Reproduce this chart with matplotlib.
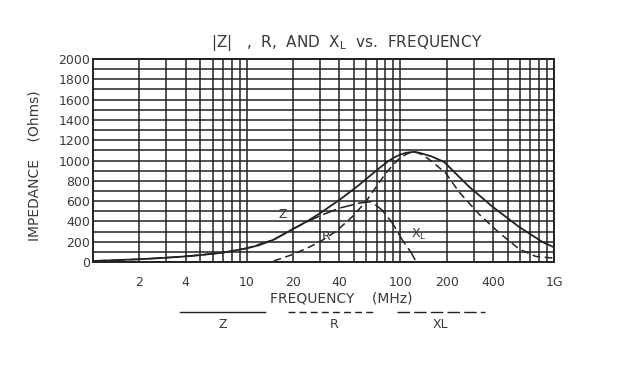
import numpy as np
import matplotlib
matplotlib.use('Agg')
import matplotlib.pyplot as plt
from matplotlib.lines import Line2D
from matplotlib.ticker import FixedLocator, MultipleLocator, NullFormatter

# Data (frequency in MHz, impedance in Ohms)
z_freq = [1, 2, 3, 4, 5, 7, 10, 12, 15, 20, 25, 30, 35, 40, 47, 54, 63, 73, 82, 91,
          100, 109, 122, 133, 160, 193, 280, 398, 590, 835, 1000]
z_ohms = [10, 27, 42, 55, 68, 92, 135, 165, 220, 325, 405, 480, 550, 610, 690, 760, 845, 925, 985, 1030,
          1058, 1076, 1085, 1076, 1040, 985, 742, 545, 348, 200, 145]

r_freq = [15, 20, 25, 30, 38, 49, 60, 70, 80, 90, 100, 113, 125, 140, 161, 198, 241, 326, 438, 590, 760, 1000]
r_ohms = [10, 75, 140, 200, 300, 450, 600, 745, 870, 960, 1030, 1072, 1085, 1055, 988, 874, 690, 470, 290, 130, 55, 38]

xl_freq = [1, 2, 4, 7, 10, 15, 20, 25, 30, 40, 54, 65, 76, 89, 103, 118, 127]
xl_ohms = [10, 27, 55, 92, 135, 220, 325, 400, 455, 530, 580, 595, 512, 381, 217, 89, 0]

x_ticks = [2, 4, 10, 20, 40, 100, 200, 400, 1000]
x_tick_labels = ['2', '4', '10', '20', '40', '100', '200', '400', '1G']
y_ticks = list(range(0, 2001, 200))

ink = '#222222'
txt = '#3a3a3a'

fig = plt.figure(figsize=(6.4, 3.67), dpi=100)
ax = fig.add_axes([93 / 640, 1 - 262 / 367, 461 / 640, 203 / 367])

ax.plot(z_freq, z_ohms, color=ink, lw=1.3, ls='-')
ax.plot(r_freq, r_ohms, color=ink, lw=1.1, dashes=(5, 3))
ax.plot(xl_freq, xl_ohms, color=ink, lw=1.1, dashes=(9, 3))

ax.set_xscale('log')
ax.set_xlim(1, 1000)
ax.set_ylim(0, 2000)

ax.xaxis.set_major_locator(FixedLocator(x_ticks))
ax.set_xticklabels(x_tick_labels)
ax.xaxis.set_minor_formatter(NullFormatter())
ax.set_yticks(y_ticks)
ax.yaxis.set_minor_locator(MultipleLocator(100))

# grid lines on every decade step and every 100 Ohm
ax.grid(True, which='both', color=ink, lw=1.1)
ax.tick_params(which='both', length=0, colors=txt, labelsize=9)
ax.tick_params(axis='x', pad=10)
ax.tick_params(axis='y', pad=2)
for s in ax.spines.values():
    s.set_color(ink)
    s.set_linewidth(1.4)

# curve labels
ax.text(16, 430, 'Z', color=txt, fontsize=9)
ax.text(31, 220, 'R', color=txt, fontsize=9)
ax.text(118, 235, r'X$_\mathregular{L}$', color=txt, fontsize=9)

fig.text(347 / 640, 1 - 43 / 367, r'|Z|   ,  R,  AND  X$_\mathregular{L}$  vs.  FREQUENCY',
         ha='center', va='center', color=txt, fontsize=11)
fig.text(35 / 640, 1 - 166 / 367, 'IMPEDANCE    (Ohms)', rotation=90,
         ha='center', va='center', color=txt, fontsize=10)
fig.text(341 / 640, 1 - 298 / 367, 'FREQUENCY    (MHz)',
         ha='center', va='center', color=txt, fontsize=10)

# legend below the axis
leg_y = 1 - 312 / 367
fig.add_artist(Line2D([180 / 640, 265 / 640], [leg_y, leg_y], color=ink, lw=1.0))
fig.add_artist(Line2D([288 / 640, 377 / 640], [leg_y, leg_y], color=ink, lw=1.0, dashes=(5, 3)))
fig.add_artist(Line2D([397 / 640, 485 / 640], [leg_y, leg_y], color=ink, lw=1.0, dashes=(9, 3)))
lab_y = 1 - 325 / 367
fig.text(223 / 640, lab_y, 'Z', ha='center', va='center', color=txt, fontsize=9)
fig.text(334 / 640, lab_y, 'R', ha='center', va='center', color=txt, fontsize=9)
fig.text(440 / 640, lab_y, 'XL', ha='center', va='center', color=txt, fontsize=9)

fig.savefig('out.png', dpi=100, facecolor='white')
